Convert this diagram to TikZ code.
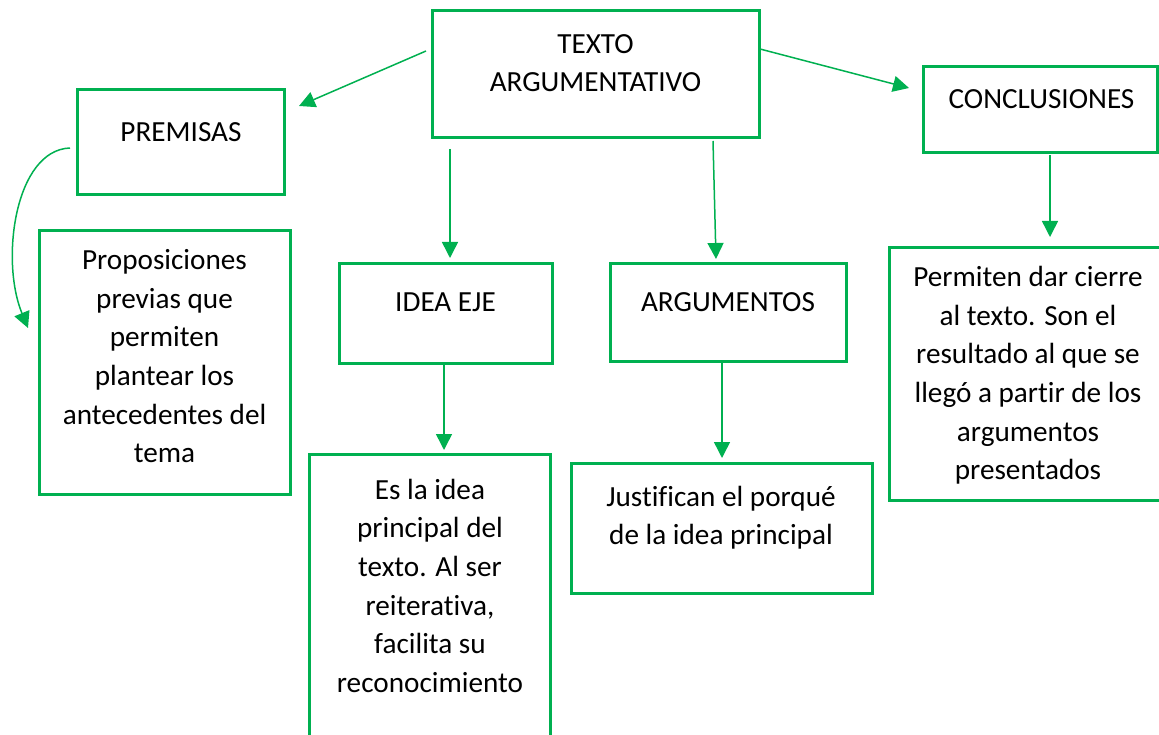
\documentclass[tikz,border=0pt]{standalone}
\usepackage{fontspec}
\setmainfont{Carlito}[Ligatures={NoCommon}]
\usetikzlibrary{arrows.meta,calc}
\definecolor{grn}{HTML}{00B050}
\begin{document}
\begin{tikzpicture}[x=1pt,y=-1pt,
  box/.style={draw=grn,line width=3pt,rectangle,inner sep=0pt,outer sep=0pt},
  txt/.style={align=center,inner sep=0pt,anchor=north,font=\fontsize{29.2}{38.6}\selectfont},
  arr/.style={draw=grn,line width=1.5pt,-{Triangle[length=16pt,width=16pt]}}]
\useasboundingbox (0,0) rectangle (1159,735);
\clip (0,0) rectangle (1159,735);
% boxes
\node[box,minimum width=327pt,minimum height=127pt] (texto) at (595.5,74.5) {};
\node[box,minimum width=207pt,minimum height=105pt] (premisas) at (180.5,142.5) {};
\node[box,minimum width=251pt,minimum height=263pt] (prop) at (164.5,362.5) {};
\node[box,minimum width=213pt,minimum height=99pt] (idea) at (445.5,313.5) {};
\node[box,minimum width=236pt,minimum height=97pt] (arg) at (728,312.5) {};
\node[box,minimum width=234pt,minimum height=86pt] (concl) at (1040,110) {};
\node[box,minimum width=241pt,minimum height=306pt] (esla) at (429.5,607) {};
\node[box,minimum width=301pt,minimum height=130pt] (just) at (721.5,528) {};
\node[box,minimum width=278pt,minimum height=252pt] (perm) at (1028,374) {};
% texts
\node[txt] (textoT) at (595.5,26) {\strut TEXTO\\ARGUMENTATIVO};
\node[txt] (premisasT) at (181,114.5) {\strut PREMISAS};
\node[txt] (propT) at (164.5,242.5) {\strut Proposiciones\\previas que\\permiten\\plantear los\\antecedentes del\\tema};
\node[txt] (ideaT) at (445.5,284.5) {\strut IDEA EJE};
\node[txt] (argT) at (728,284) {\strut ARGUMENTOS};
\node[txt] (conclT) at (1041.5,81) {\strut CONCLUSIONES};
\node[txt] (eslaT) at (430,472) {\strut Es la idea\\principal del\\texto. Al ser\\reiterativa,\\facilita su\\reconocimiento};
\node[txt] (justT) at (721,479) {\strut Justifican el porqué\\de la idea principal};
\node[txt] (permT) at (1028,259.5) {\strut Permiten dar cierre\\al texto. Son el\\resultado al que se\\llegó a partir de los\\argumentos\\presentados};
% connectors
\draw[arr] ($(texto.west)+(-6,-23.5)$) -- ($(premisas.north east)+(15,16)$);
\draw[arr] ($(texto.east)+(1,-25.5)$) -- ($(concl.west)+(-14,-22)$);
\draw[arr] ($(texto.south)+(-145.5,11)$) -- ($(idea.north)+(4.5,-6)$);
\draw[arr] ($(texto.south)+(117.5,3)$) -- ($(arg.north)+(-12,-5)$);
\draw[arr] ($(idea.south)+(-1.5,2)$) -- ($(esla.north)+(14.5,-4)$);
\draw[arr] ($(arg.south)+(-6,1)$) -- ($(just.north)+(0.5,-5)$);
\draw[arr] ($(concl.south)+(10,2)$) -- ($(perm.north)+(22,-11)$);
\draw[arr] ($(premisas.west)+(-7,5.5)$) .. controls +(-55,2) and +(-28,-68) .. ($(prop.west)+(-11,-34.5)$);
\end{tikzpicture}
\end{document}
